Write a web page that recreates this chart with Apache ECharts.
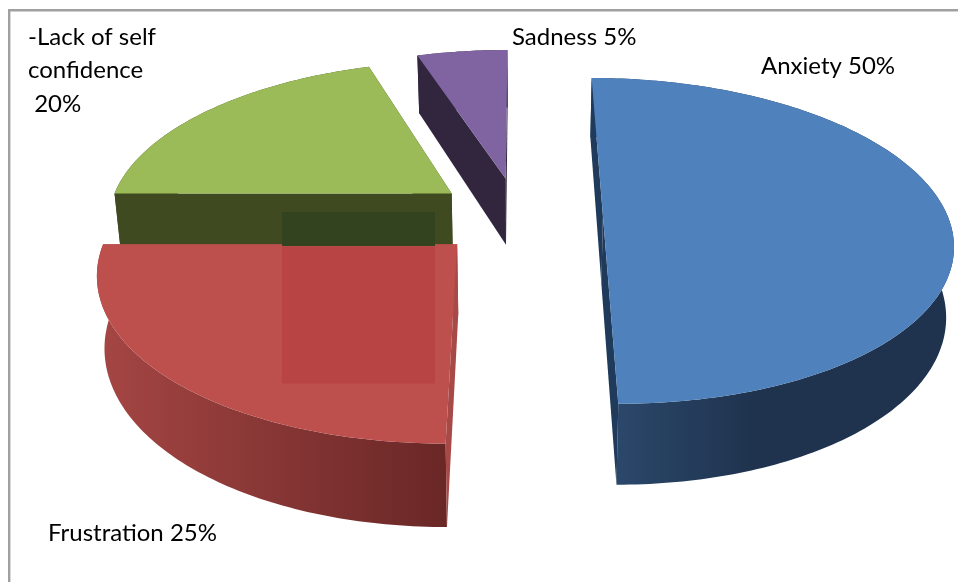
<!DOCTYPE html>
<html>
<head>
<meta charset="utf-8">
<style>
  html, body { margin: 0; padding: 0; background: #fff; }
  #chart { width: 958px; height: 582px; }
</style>
<script src="https://cdn.jsdelivr.net/npm/echarts@6/dist/echarts.min.js"></script>
</head>
<body>
<div id="chart"></div>
<script>
// Shares of each reported feeling, in percent.
const categories = ['Anxiety', 'Frustration', '-Lack of self confidence', 'Sadness'];
const shares = [50, 25, 20, 5];

// Printed label lines, one list per slice.
const labelLines = [
  ['Anxiety 50%'],
  ['Frustration 25%'],
  ['-Lack of self', 'confidence', ' 20%'],
  ['Sadness 5%']
];

// Where each label block starts on the page.
const labelAnchors = [[761, 66], [48, 533], [28, 37], [512, 37]];

// Slice colours: top face, first wall stop, second wall stop, straight wall.
const topColors = ['#4f81bd', '#bd4f4d', '#9bbb59', '#8064a2'];
const wallFrom = ['#2d4b70', '#a54644', '#3f4a21', '#32263f'];
const wallTo = ['#1f334e', '#692726', '#3f4a21', '#32263f'];
const wallEdge = ['#1f3a5a', '#a64947', '#3f4a21', '#32263f'];
const wallStop = [0.45, 1, 1, 1];

// Perspective camera: vanishing point, lens scale, viewing distance, disc explosion, slab depth.
const VANISH_X = 518.5;
const VANISH_Y = -818;
const LENS_X = 2240;
const LENS_Y = 6720;
const DISTANCE = 6.5;
const EXPLODE = 0.245;
const DEPTH = 445;
const BASE_SHRINK = 0.982;

function project(px, py, lower) {
  const d = DISTANCE - py;
  const x = LENS_X * px / d;
  const y = VANISH_Y + LENS_Y / d + (lower ? DEPTH / d : 0);
  return [VANISH_X + x * (lower ? BASE_SHRINK : 1), y];
}

const total = shares.reduce((a, b) => a + b, 0);

// Cumulative share at the start and end of each slice.
const boundaries = [];
shares.reduce((acc, v) => {
  boundaries.push([acc, acc + v]);
  return acc + v;
}, 0);

function sliceShapes(index) {
  const a0 = -Math.PI / 2 + boundaries[index][0] / total * Math.PI * 2;
  const a1 = -Math.PI / 2 + boundaries[index][1] / total * Math.PI * 2;
  const mid = (a0 + a1) / 2;
  const ox = EXPLODE * Math.cos(mid);
  const oy = EXPLODE * Math.sin(mid);
  const steps = Math.max(24, Math.round((a1 - a0) * 60));
  const upperArc = [];
  const lowerArc = [];
  for (let i = 0; i <= steps; i++) {
    const a = a0 + (a1 - a0) * i / steps;
    const px = ox + Math.cos(a);
    const py = oy + Math.sin(a);
    upperArc.push(project(px, py, false));
    lowerArc.push(project(px, py, true));
  }
  const apexUp = project(ox, oy, false);
  const apexLow = project(ox, oy, true);
  return {
    top: [apexUp].concat(upperArc),
    outer: upperArc.concat(lowerArc.slice().reverse()),
    edgeA: [apexUp, upperArc[0], lowerArc[0], apexLow],
    edgeB: [apexUp, upperArc[steps], lowerArc[steps], apexLow]
  };
}

// Nearer slices are painted over farther ones.
const paintRank = [1, 2, 0, 0];

function renderSlice(params, api) {
  const idx = params.dataIndex;
  const s = sliceShapes(idx);
  const base = paintRank[idx] * 10;
  const poly = (points, fill, z2) => ({
    type: 'polygon',
    z2: base + z2,
    shape: { points: points },
    style: { fill: fill, stroke: null }
  });
  const wallGradient = new echarts.graphic.LinearGradient(0, 0, 1, 0, [
    { offset: 0, color: wallFrom[idx] },
    { offset: wallStop[idx], color: wallTo[idx] },
    { offset: 1, color: wallTo[idx] }
  ]);
  const children = [
    poly(s.outer, wallGradient, 1),
    poly(s.edgeA, wallEdge[idx], 2),
    poly(s.edgeB, wallEdge[idx], 2),
    poly(s.top, topColors[idx], 3)
  ];
  labelLines[idx].forEach((line, i) => {
    children.push({
      type: 'text',
      z2: 50,
      style: {
        x: labelAnchors[idx][0],
        y: labelAnchors[idx][1] + i * 33.7,
        text: line,
        fill: '#000',
        font: '24px Lato, "Open Sans", sans-serif',
        verticalAlign: 'middle'
      }
    });
  });
  return { type: 'group', children: children };
}

const chart = echarts.init(document.getElementById('chart'), null, { renderer: 'canvas' });
chart.setOption({
  animation: false,
  backgroundColor: '#ffffff',
  series: [{
    type: 'custom',
    coordinateSystem: 'none',
    renderItem: renderSlice,
    silent: true,
    data: shares.map((v, i) => ({ name: categories[i], value: v }))
  }],
  graphic: [
    // Worksheet frame along the top and left.
    { type: 'rect', z: 1, shape: { x: 8, y: 9, width: 950, height: 2.4 }, style: { fill: '#a0a0a0' } },
    { type: 'rect', z: 1, shape: { x: 8, y: 9, width: 2.4, height: 573 }, style: { fill: '#a0a0a0' } },
    // Tinted panel seen through the overlapping slices.
    { type: 'rect', z: 20, shape: { x: 282, y: 212, width: 153, height: 34 }, style: { fill: '#33431f' } },
    { type: 'rect', z: 20, shape: { x: 282, y: 246.5, width: 153, height: 137 }, style: { fill: '#b84444' } }
  ]
});
</script>
</body>
</html>
